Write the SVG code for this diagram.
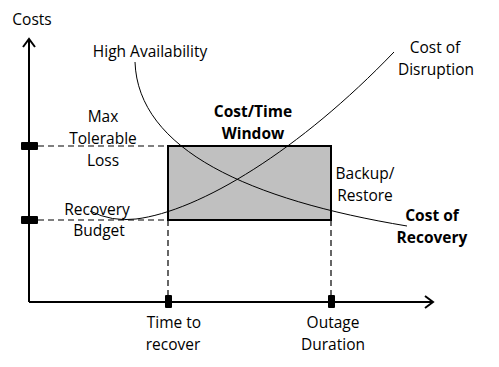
<svg xmlns="http://www.w3.org/2000/svg" width="499" height="367" viewBox="0 0 499 367">
<style>
text{font-family:"Open Sans","Liberation Sans",sans-serif;font-size:15.5px;fill:#000;text-anchor:middle}
.b{font-weight:bold}
.ax{stroke:#000;stroke-width:2;fill:none}
.dash{stroke:#000;stroke-width:1.2;stroke-dasharray:6,4;fill:none}
.curve{stroke:#000;stroke-width:1;fill:none}
.tick{fill:#000}
</style>
<rect width="499" height="367" fill="#fff"/>
<g id="window">
<rect x="168" y="146" width="163" height="74" fill="#c0c0c0" stroke="#000" stroke-width="2"/>
</g>
<g id="connectors">
<path class="dash" d="M38,146 H168 M38,220 H168 M168,220 V295 M331,220 V295"/>
<path id="high-availability-curve" class="curve" d="M135,62 C138,150 250,200 407,226"/>
<path id="cost-of-disruption-curve" class="curve" d="M90,211 Q112,222 136,219 C200,211 300,150 394,52"/>
</g>
<g id="axes">
<path class="ax" d="M29,302 V39 M29,302 H433"/>
<path class="ax" d="M23,47 L29,39 L35,47"/>
<path class="ax" d="M425,296 L433,302 L425,308"/>
<rect class="tick" x="21" y="142" width="17" height="8" rx="1"/>
<rect class="tick" x="21" y="216" width="17" height="8" rx="1"/>
<rect class="tick" x="165" y="295" width="7" height="13" rx="1"/>
<rect class="tick" x="328" y="295" width="7" height="13" rx="1"/>
</g>
<g id="labels">
<text x="32" y="25">Costs</text>
<text x="150" y="57">High Availability</text>
<text x="435" y="53">Cost of</text>
<text x="436" y="75">Disruption</text>
<text x="103" y="122">Max</text>
<text x="103" y="144">Tolerable</text>
<text x="103" y="166">Loss</text>
<text class="b" x="253" y="117">Cost/Time</text>
<text class="b" x="253" y="139">Window</text>
<text x="365" y="179">Backup/</text>
<text x="365" y="201">Restore</text>
<text class="b" x="432" y="221">Cost of</text>
<text class="b" x="432" y="243">Recovery</text>
<text x="97" y="215">Recovery</text>
<text x="99" y="236">Budget</text>
<text x="174" y="328">Time to</text>
<text x="173" y="350">recover</text>
<text x="333" y="328">Outage</text>
<text x="333" y="350">Duration</text>
</g>
</svg>
